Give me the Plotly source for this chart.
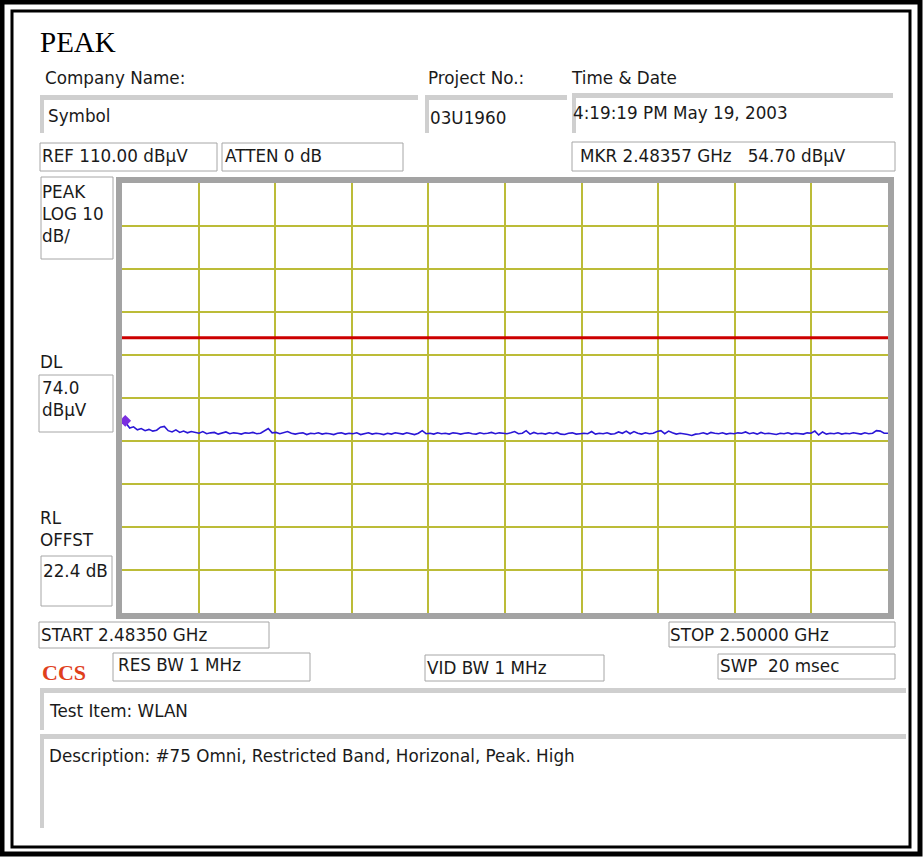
import numpy as np
import plotly.graph_objects as go

# ---------------------------------------------------------------------------
# Analyzer settings / readings (from the screen)
# ---------------------------------------------------------------------------
START_GHZ = 2.48350
STOP_GHZ = 2.50000
REF_DBUV = 110.0
DB_PER_DIV = 10
DL_DBUV = 74.0
MKR_GHZ = 2.48357
MKR_DBUV = 54.70

# peak trace, dBuV
TRACE_DBUV = [
    54.7, 54.2, 53.0, 53.3, 52.6, 52.9, 52.4, 52.7, 52.3, 52.5,
    53.2, 53.4, 52.4, 52.1, 52.6, 52.0, 52.3, 51.9, 52.2, 52.0,
    51.8, 52.2, 51.7, 51.9, 52.0, 51.6, 51.8, 52.1, 51.7, 51.9,
    51.8, 51.6, 51.9, 51.8, 52.0, 51.7, 51.8, 52.3, 52.9, 51.9,
    52.0, 51.7, 51.9, 52.2, 51.8, 51.6, 51.8, 51.9, 51.5, 51.8,
    51.7, 51.9, 51.6, 51.8, 51.7, 51.5, 51.8, 51.9, 51.6, 51.8,
    51.7, 51.9, 51.5, 51.7, 51.9, 51.6, 51.8, 51.7, 51.5, 51.8,
    51.6, 51.9, 51.7, 51.6, 51.9, 51.7, 51.5, 51.8, 52.4, 51.7,
    51.8, 51.6, 51.9, 51.7, 51.8, 51.6, 51.9, 51.8, 51.6, 51.8,
    51.9, 51.7, 51.6, 51.9, 51.7, 51.8, 52.0, 51.7, 51.9, 51.8,
    51.7, 51.9, 52.2, 51.7, 51.8, 52.4, 51.6, 52.0, 51.7, 51.8,
    51.6, 51.9, 51.7, 52.0, 51.6, 51.5, 51.8, 51.9, 51.6, 51.7,
    51.8, 51.7, 52.2, 51.6, 51.8, 51.7, 51.9, 51.6, 51.7, 52.1,
    51.8, 52.3, 51.7, 52.2, 51.8, 51.6, 51.9, 51.7, 51.8, 52.2,
    52.4, 51.7, 52.3, 51.9, 51.6, 51.8, 51.7, 51.5, 51.3, 51.6,
    51.7, 51.9, 51.6, 52.0, 51.8, 51.7, 51.9, 51.6, 51.8, 51.7,
    51.9, 51.8, 52.1, 51.7, 51.9, 51.6, 52.0, 51.7, 51.8, 51.6,
    51.5, 51.8, 51.7, 51.9, 51.6, 51.8, 51.7, 51.6, 51.9, 51.8,
    52.3, 51.4, 52.1, 51.6, 51.8, 51.7, 51.9, 51.6, 51.8, 51.7,
    51.9, 51.8, 51.6, 51.9, 51.7, 51.8, 52.4, 52.3, 51.8, 51.8,
]

freqs = np.linspace(START_GHZ, STOP_GHZ, len(TRACE_DBUV))

# ---------------------------------------------------------------------------
# Page geometry (pixels of the 923x857 screen grab)
# ---------------------------------------------------------------------------
W, H = 923, 857
GRID = (122, 183, 888, 613)  # inner plot area x0, y0, x1, y1

SANS = "DejaVu Sans, Tahoma, Verdana, sans-serif"
SERIF = "Liberation Serif, Times New Roman, serif"


def px(x):
    return x / W


def py(y):
    return 1 - y / H


shapes = []


def rect(x0, y0, x1, y1, fill="white", line="#a6a6a6", lw=1):
    shapes.append(dict(
        type="rect", xref="paper", yref="paper", layer="below",
        x0=px(x0), x1=px(x1), y0=py(y1), y1=py(y0),
        fillcolor=fill, line=dict(color=line, width=lw),
    ))


def bevel(x0, y0, x1, y1):
    # sunken field: grey strip on top and left edge
    rect(x0, y0, x1, y0 + 5, fill="#cfcfcf", line="#cfcfcf", lw=0)
    rect(x0, y0, x0 + 4, y1, fill="#cfcfcf", line="#cfcfcf", lw=0)


# outer double frame
rect(2, 2, 920, 854, fill="white", line="black", lw=5)
rect(12, 11, 910, 847, fill="rgba(0,0,0,0)", line="black", lw=3)

# header fields
bevel(40, 95, 418, 133)
bevel(425, 95, 567, 133)
bevel(572, 93, 893, 133)

# small outlined boxes
rect(40, 143, 217, 171)
rect(222, 143, 403, 171)
rect(572, 142, 895, 171)
rect(41, 177, 113, 259)
rect(39, 375, 113, 432)
rect(41, 556, 112, 606)
rect(39, 622, 269, 648)
rect(669, 622, 895, 647)
rect(113, 653, 310, 681)
rect(425, 655, 604, 681)
rect(718, 654, 895, 679)

# lower fields
bevel(40, 688, 906, 730)
bevel(40, 734, 906, 828)

# plot frame
rect(116, 177, 894, 619, fill="#a3a3a3", line="#a3a3a3", lw=0)
rect(GRID[0], GRID[1], GRID[2], GRID[3], fill="white", line="white", lw=0)

annotations = []


def label(text, x, y, size=16.8, font=SANS, color="#1a1a1a", bold=False):
    if bold:
        text = f"<b>{text}</b>"
    annotations.append(dict(
        text=text, x=px(x), y=py(y), xref="paper", yref="paper",
        xanchor="left", yanchor="middle", showarrow=False,
        font=dict(family=font, size=size, color=color),
    ))


label("PEAK", 38, 42, size=29, font=SERIF, color="black")
label("Company Name:", 43, 78)
label("Project No.:", 426, 78)
label("Time &amp; Date", 569, 78)
label("Symbol", 46, 116)
label("03U1960", 428, 118)
label("4:19:19 PM May 19, 2003", 571, 113)
label("REF 110.00 dBµV", 40, 156)
label("ATTEN 0 dB", 223, 156)
label(f"MKR {MKR_GHZ:.5f} GHz   {MKR_DBUV:.2f} dBµV", 578, 156)
label("PEAK", 40, 192)
label("LOG 10", 40, 214)
label("dB/", 40, 236)
label("DL", 38, 362)
label(f"{DL_DBUV:.1f}", 40, 388)
label("dBµV", 40, 410)
label("RL", 38, 518)
label("OFFST", 38, 540)
label("22.4 dB", 41, 571)
label(f"START {START_GHZ:.5f} GHz", 39, 635)
label(f"STOP {STOP_GHZ:.5f} GHz", 668, 635)
label("CCS", 40, 672, size=22, font=SERIF, color="#e0401c", bold=True)
label("RES BW 1 MHz", 116, 665)
label("VID BW 1 MHz", 425, 668)
label("SWP  20 msec", 718, 666)
label("Test Item: WLAN", 47, 711)
label("Description: #75 Omni, Restricted Band, Horizonal, Peak. High", 47, 756)

# ---------------------------------------------------------------------------
# Figure
# ---------------------------------------------------------------------------
fig = go.Figure()

fig.add_trace(go.Scatter(
    x=[START_GHZ, STOP_GHZ], y=[DL_DBUV, DL_DBUV],
    mode="lines", line=dict(color="#cc0000", width=3),
    hoverinfo="skip", name="DL",
))
fig.add_trace(go.Scatter(
    x=freqs, y=TRACE_DBUV,
    mode="lines", line=dict(color="#2a16d6", width=1.6),
    name="Peak",
))
fig.add_trace(go.Scatter(
    x=[MKR_GHZ], y=[MKR_DBUV],
    mode="markers", marker=dict(symbol="diamond", size=9, color="#7b2fe0"),
    name="MKR",
))

span = STOP_GHZ - START_GHZ
fig.update_layout(
    width=W, height=H,
    margin=dict(l=0, r=0, t=0, b=0),
    paper_bgcolor="white", plot_bgcolor="white",
    showlegend=False,
    shapes=shapes,
    annotations=annotations,
    xaxis=dict(
        domain=[px(GRID[0]), px(GRID[2])],
        range=[START_GHZ, STOP_GHZ],
        tick0=START_GHZ, dtick=span / 10,
        showgrid=True, gridcolor="#bcbc38", gridwidth=1.5,
        showticklabels=False, ticks="", zeroline=False, showline=False,
        fixedrange=True,
    ),
    yaxis=dict(
        domain=[py(GRID[3]), py(GRID[1])],
        range=[REF_DBUV - 10 * DB_PER_DIV, REF_DBUV],
        tick0=0, dtick=DB_PER_DIV,
        showgrid=True, gridcolor="#bcbc38", gridwidth=1.5,
        showticklabels=False, ticks="", zeroline=False, showline=False,
        fixedrange=True,
    ),
)

# drop the browser's default body margin so the figure sits at 0,0
fig.write_html(
    "out.html",
    config={"displayModeBar": False},
    post_script="document.body.style.margin='0';",
)
